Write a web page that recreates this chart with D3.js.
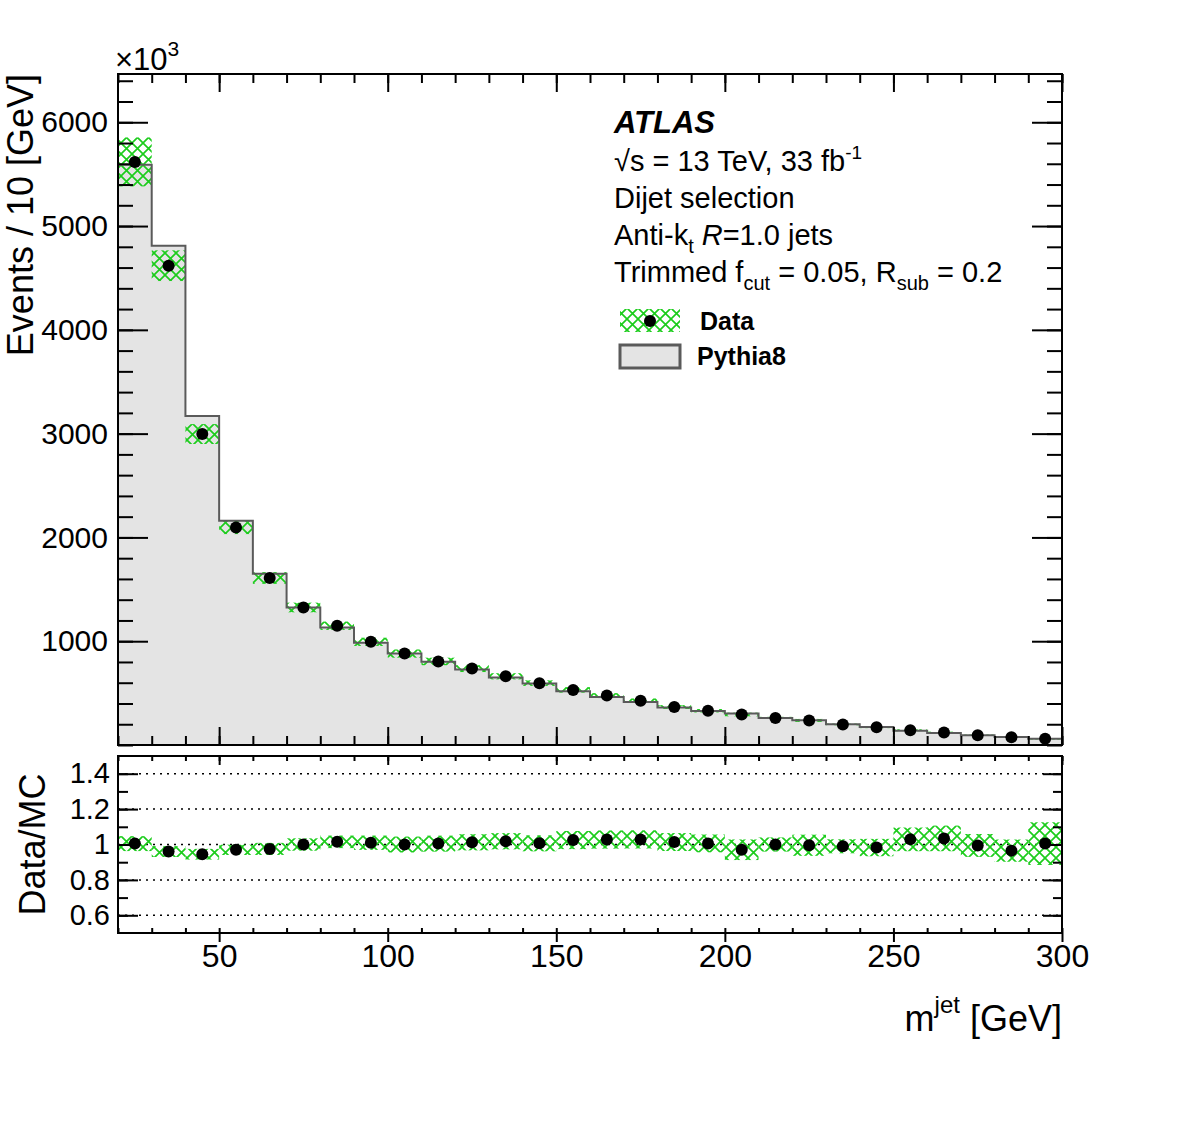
<!DOCTYPE html>
<meta charset="utf-8">
<style>
body { margin: 0; background: #fff; }
svg text { font-family: "Liberation Sans", Arial, Helvetica, sans-serif; fill: #000; }
.frame { fill: none; stroke: #000; stroke-width: 2; }
.tick line { stroke: #000; stroke-width: 2; }
.grid { stroke: #000; stroke-width: 1.5; stroke-dasharray: 2 5; }
</style>
<svg width="1182" height="1146"></svg>
<script src="https://d3js.org/d3.v7.min.js"></script>
<script>

// jet mass bins (lower edges, GeV), width 10
var binLow = [20, 30, 40, 50, 60, 70, 80, 90, 100, 110, 120, 130, 140, 150,
              160, 170, 180, 190, 200, 210, 220, 230, 240, 250, 260, 270, 280, 290];
var binWidth = 10;

// Pythia8 prediction, events / 10 GeV (x10^3)
var mcCounts = [5590, 4810, 3170, 2160, 1650, 1325, 1132, 984, 881, 801, 727, 650, 592, 518,
                463, 415, 361, 328, 303, 261, 238, 200, 174, 138, 116, 94.5, 78, 60];

// data, events / 10 GeV (x10^3)
var dataCounts = [5618, 4618, 2996, 2095, 1609, 1325, 1149, 994, 881, 805, 736, 662, 596, 531,
                  476, 427, 366, 330, 294, 261, 237, 198, 171, 142, 120, 94, 75.3, 60.3];

// relative uncertainty of the hatched band
var relErr = [0.042, 0.032, 0.032, 0.03, 0.035, 0.035, 0.035, 0.04, 0.045, 0.045, 0.045, 0.045, 0.045, 0.05,
              0.05, 0.05, 0.05, 0.05, 0.06, 0.04, 0.06, 0.04, 0.05, 0.065, 0.07, 0.065, 0.065, 0.12];

var xTicks = [50, 100, 150, 200, 250, 300];
var yTicks = [1000, 2000, 3000, 4000, 5000, 6000];
var rTicks = [0.6, 0.8, 1, 1.2, 1.4];

var bins = binLow.map(function(lo, i) {
  return { lo: lo, hi: lo + binWidth, mid: lo + binWidth / 2,
           mc: mcCounts[i], data: dataCounts[i], err: relErr[i],
           ratio: dataCounts[i] / mcCounts[i] };
});

var svg = d3.select("svg");
var left = 118, right = 1062, mainTop = 74, mainBottom = 745, ratTop = 756, ratBottom = 933;
var green = "#1ccc1c";

svg.append("rect").attr("width", "100%").attr("height", "100%").attr("fill", "#fff");

// cross-hatch pattern (ROOT style)
var pat = svg.append("defs").append("pattern")
    .attr("id", "hatch").attr("patternUnits", "userSpaceOnUse")
    .attr("width", 11).attr("height", 11);
pat.append("path").attr("d", "M0,0 L11,11 M11,0 L0,11")
    .attr("stroke", green).attr("stroke-width", 1.7).attr("fill", "none");

var x = d3.scaleLinear().domain([20, 300]).range([left, right]);
var y = d3.scaleLinear().domain([0, 6465]).range([mainBottom, mainTop]);
var yr = d3.scaleLinear().domain([0.5, 1.5]).range([ratBottom, ratTop]);

// ---------------- main panel ----------------
var steps = bins.map(function(b) { return { x: b.lo, v: b.mc }; });
steps.push({ x: 300, v: mcCounts[mcCounts.length - 1] });

svg.append("path")
   .datum(steps)
   .attr("d", d3.area().curve(d3.curveStepAfter)
       .x(function(d) { return x(d.x); })
       .y0(y(0))
       .y1(function(d) { return y(d.v); }))
   .attr("fill", "#e4e4e4");

svg.append("g").selectAll("rect")
   .data(bins).enter().append("rect")
   .attr("x", function(d) { return x(d.lo); })
   .attr("width", function(d) { return x(d.hi) - x(d.lo); })
   .attr("y", function(d) { return y(d.data * (1 + d.err)); })
   .attr("height", function(d) { return y(d.data * (1 - d.err)) - y(d.data * (1 + d.err)); })
   .attr("fill", "url(#hatch)");

svg.append("path")
   .datum(steps)
   .attr("d", d3.line().curve(d3.curveStepAfter)
       .x(function(d) { return x(d.x); })
       .y(function(d) { return y(d.v); }))
   .attr("fill", "none").attr("stroke", "#5a5a5a").attr("stroke-width", 2);

svg.append("g").selectAll("circle")
   .data(bins).enter().append("circle")
   .attr("cx", function(d) { return x(d.mid); })
   .attr("cy", function(d) { return y(d.data); })
   .attr("r", 6).attr("fill", "#000");

// axes with inward ticks
function ticks(axis, pos, vals, size, fmt) {
  var g = svg.append("g").attr("transform", pos)
      .call(axis.tickValues(vals).tickSize(size).tickPadding(10).tickFormat(fmt || ""));
  g.select(".domain").remove();
  return g;
}
var minorX = d3.range(20, 301, 10), minorY = d3.range(0, 6465, 200), minorR = d3.range(0.6, 1.45, 0.1);

ticks(d3.axisBottom(x), "translate(0," + mainTop + ")", minorX, 9);
ticks(d3.axisBottom(x), "translate(0," + mainTop + ")", xTicks, 18);
ticks(d3.axisTop(x), "translate(0," + mainBottom + ")", minorX, 9);
ticks(d3.axisTop(x), "translate(0," + mainBottom + ")", xTicks, 18);
ticks(d3.axisLeft(y), "translate(" + right + ",0)", minorY, 15);
ticks(d3.axisLeft(y), "translate(" + right + ",0)", yTicks, 30);
ticks(d3.axisRight(y), "translate(" + left + ",0)", minorY, 15);
var yl = ticks(d3.axisLeft(y), "translate(" + left + ",0)", yTicks, -30, d3.format("d"));
yl.selectAll("text").attr("font-size", 30).attr("x", -10);

svg.append("rect").attr("class", "frame")
   .attr("x", left).attr("y", mainTop).attr("width", right - left).attr("height", mainBottom - mainTop);

// x10^3
var e3 = svg.append("text").attr("x", left - 3).attr("y", 70).attr("font-size", 31);
e3.append("tspan").text("\u00d710");
e3.append("tspan").attr("font-size", 21).attr("dy", -14).text("3");

svg.append("text")
   .attr("transform", "translate(33," + mainTop + ") rotate(-90)")
   .attr("text-anchor", "end").attr("font-size", 36)
   .text("Events / 10 [GeV]");

// ---------------- labels / legend ----------------
var tx = 614;
svg.append("text").attr("x", tx).attr("y", 133).attr("font-size", 31)
   .attr("font-weight", "bold").attr("font-style", "italic").text("ATLAS");

var l1 = svg.append("text").attr("x", tx).attr("y", 171).attr("font-size", 29);
l1.append("tspan").text("\u221as = 13 TeV, 33 fb");
l1.append("tspan").attr("font-size", 19).attr("dy", -12).text("-1");

svg.append("text").attr("x", tx).attr("y", 208).attr("font-size", 29).text("Dijet selection");

var l3 = svg.append("text").attr("x", tx).attr("y", 245).attr("font-size", 29);
l3.append("tspan").text("Anti-k");
l3.append("tspan").attr("font-size", 20).attr("dy", 8).text("t");
l3.append("tspan").attr("dy", -8).attr("dx", 8).attr("font-style", "italic").text("R");
l3.append("tspan").text("=1.0 jets");

var l4 = svg.append("text").attr("x", tx).attr("y", 282).attr("font-size", 29);
l4.append("tspan").text("Trimmed f");
l4.append("tspan").attr("font-size", 20).attr("dy", 8).text("cut");
l4.append("tspan").attr("dy", -8).text(" = 0.05, R");
l4.append("tspan").attr("font-size", 20).attr("dy", 8).text("sub");
l4.append("tspan").attr("dy", -8).text(" = 0.2");

svg.append("rect").attr("x", 620).attr("y", 309).attr("width", 60).attr("height", 23)
   .attr("fill", "url(#hatch)");
svg.append("circle").attr("cx", 650).attr("cy", 321).attr("r", 6).attr("fill", "#000");
svg.append("text").attr("x", 700).attr("y", 330).attr("font-size", 25)
   .attr("font-weight", "bold").text("Data");

svg.append("rect").attr("x", 620).attr("y", 345).attr("width", 60).attr("height", 23)
   .attr("fill", "#e4e4e4").attr("stroke", "#5a5a5a").attr("stroke-width", 3);
svg.append("text").attr("x", 697).attr("y", 365).attr("font-size", 25)
   .attr("font-weight", "bold").text("Pythia8");

// ---------------- ratio panel ----------------
svg.append("g").selectAll("line")
   .data(rTicks).enter().append("line").attr("class", "grid")
   .attr("x1", left).attr("x2", right)
   .attr("y1", function(d) { return yr(d); }).attr("y2", function(d) { return yr(d); });

svg.append("g").selectAll("rect")
   .data(bins).enter().append("rect")
   .attr("x", function(d) { return x(d.lo); })
   .attr("width", function(d) { return x(d.hi) - x(d.lo); })
   .attr("y", function(d) { return yr(d.ratio * (1 + d.err)); })
   .attr("height", function(d) { return yr(d.ratio * (1 - d.err)) - yr(d.ratio * (1 + d.err)); })
   .attr("fill", "url(#hatch)");

svg.append("g").selectAll("circle")
   .data(bins).enter().append("circle")
   .attr("cx", function(d) { return x(d.mid); })
   .attr("cy", function(d) { return yr(d.ratio); })
   .attr("r", 6).attr("fill", "#000");

ticks(d3.axisBottom(x), "translate(0," + ratTop + ")", minorX, 5);
ticks(d3.axisBottom(x), "translate(0," + ratTop + ")", xTicks, 9);
ticks(d3.axisTop(x), "translate(0," + ratBottom + ")", minorX, 5);
var xl = ticks(d3.axisTop(x), "translate(0," + ratBottom + ")", xTicks, -9, d3.format("d"));
// axisTop with negative size: put labels under the axis
xl.selectAll("text").attr("font-size", 32).attr("y", 34).attr("dy", 0);
ticks(d3.axisLeft(yr), "translate(" + right + ",0)", minorR, 9);
ticks(d3.axisLeft(yr), "translate(" + right + ",0)", rTicks, 19);
ticks(d3.axisRight(yr), "translate(" + left + ",0)", minorR, 10);
var rl = ticks(d3.axisLeft(yr), "translate(" + left + ",0)", rTicks, -20,
               function(d) { return String(+d.toFixed(1)); });
rl.selectAll("text").attr("font-size", 29).attr("x", -8);

svg.append("rect").attr("class", "frame")
   .attr("x", left).attr("y", ratTop).attr("width", right - left).attr("height", ratBottom - ratTop);

svg.append("text")
   .attr("transform", "translate(45," + ((ratTop + ratBottom) / 2) + ") rotate(-90)")
   .attr("text-anchor", "middle").attr("font-size", 36)
   .text("Data/MC");

var xt = svg.append("text").attr("x", right).attr("y", 1031)
   .attr("text-anchor", "end").attr("font-size", 36);
xt.append("tspan").text("m");
xt.append("tspan").attr("font-size", 24).attr("dy", -18).text("jet");
xt.append("tspan").attr("dy", 18).text(" [GeV]");

</script>
